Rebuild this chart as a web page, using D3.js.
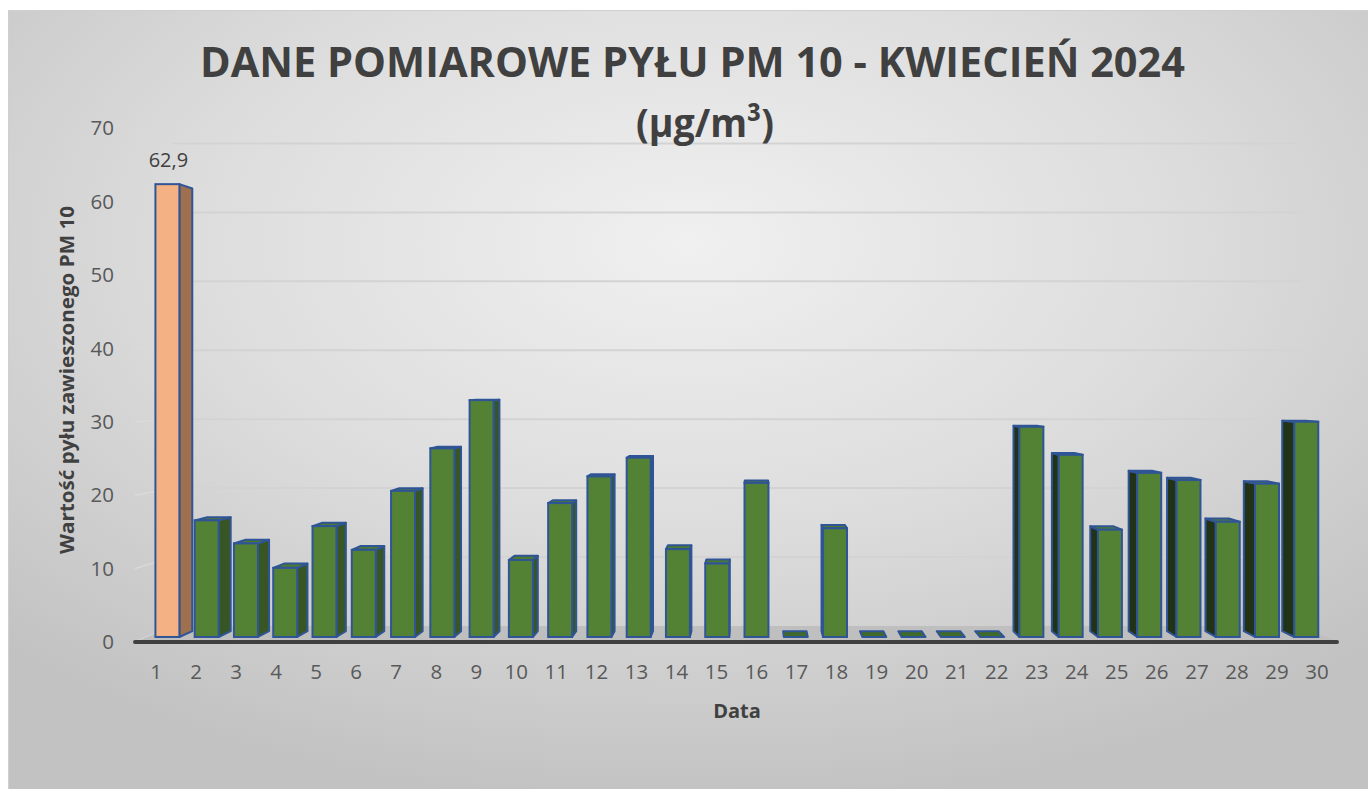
<!DOCTYPE html>
<html>
<head>
<meta charset="utf-8">
<script src="https://cdn.jsdelivr.net/npm/d3@7"></script>
<style>
  html, body { margin: 0; padding: 0; background: #ffffff; }
  svg { display: block; }
</style>
</head>
<body>
<svg id="chart" width="1368" height="789"></svg>
<script>
// ---- data ----
const days = [1,2,3,4,5,6,7,8,9,10,11,12,13,14,15,16,17,18,19,20,21,22,23,24,25,26,27,28,29,30];
const pm10 = [62.9,16.2,13.0,9.6,15.4,12.1,20.3,26.2,32.9,10.7,18.6,22.3,24.9,12.2,10.2,21.4,0,15.1,0,0,0,0,29.2,25.3,14.9,22.8,21.8,16.0,21.3,29.9];
const yTicks = [0,10,20,30,40,50,60,70];
const labelDay = 1;               // only data label shown
const titleLine1 = "DANE POMIAROWE PYŁU PM 10 - KWIECIEŃ 2024";
const titleLine2 = "(μg/m³)";
const yTitle = "Wartość pyłu zawieszonego PM 10";
const xTitle = "Data";

// ---- layout ----
const svg = d3.select("#chart");
const W = 1368, H = 789;
const font = "'Open Sans', 'DejaVu Sans', sans-serif";

const x = d3.scaleBand().domain(days).range([136, 1337]).padding(0);
const y = d3.scaleLinear().domain([0, 70]).range([642, 128.3]);
const step = x.step();
const barW = step * 0.61;

// perspective
const VP = [755, 378];
const zBarFront = 0.019, zBarBack = 0.041, zWall = 0.061;
function proj(X, Y, z) { return [VP[0] + (X - VP[0]) * (1 - z), VP[1] + (Y - VP[1]) * (1 - z)]; }
const line = pts => "M" + pts.map(p => p.join(",")).join("L") + "Z";

// ---- background ----
const defs = svg.append("defs");
const rg = defs.append("radialGradient").attr("id", "bg").attr("cx", "50%").attr("cy", "30%").attr("r", "72%");
rg.append("stop").attr("offset", "0%").attr("stop-color", "#f0f0f0");
rg.append("stop").attr("offset", "50%").attr("stop-color", "#dddddd");
rg.append("stop").attr("offset", "100%").attr("stop-color", "#c2c2c2");
svg.append("rect").attr("x", 8.5).attr("y", 10.5).attr("width", W - 8).attr("height", H - 10)
  .attr("fill", "url(#bg)").attr("stroke", "#cfcfcf").attr("stroke-width", 1);

// ---- gridlines (back wall + left wall) ----
const xL = 135, xR = 1337;
const grid = svg.append("g");
yTicks.forEach(v => {
  const a = proj(xL, y(v), 0), b = proj(xL, y(v), zWall), c = proj(xR, y(v), zWall);
  grid.append("line").attr("x1", a[0]).attr("y1", a[1]).attr("x2", b[0]).attr("y2", b[1])
    .attr("stroke", "#dadada").attr("stroke-width", 1.5);
  if (v > 0) grid.append("line").attr("x1", b[0]).attr("y1", b[1]).attr("x2", c[0]).attr("y2", c[1])
    .attr("stroke", "#d3d3d3").attr("stroke-width", 2);
});

// ---- floor ----
const f0 = proj(xL, y(0), 0), f1 = proj(xR, y(0), 0), f2 = proj(xR, y(0), zWall), f3 = proj(xL, y(0), zWall);
svg.append("path").attr("d", line([f0, f1, f2, f3])).attr("fill", "#bfbfbf");
svg.append("line").attr("x1", f0[0]).attr("y1", f0[1]).attr("x2", f1[0]).attr("y2", f1[1])
  .attr("stroke", "#404040").attr("stroke-width", 4).attr("stroke-linecap", "round");

// ---- bars ----
const bars = svg.append("g");
const outline = "#2f5597";
days.forEach((d, i) => {
  const v = pm10[i];
  const cx = x(d) + step / 2;
  const X0 = cx - barW / 2, X1 = cx + barW / 2;
  const Yb = y(0), Yt = y(v);
  const isFirst = d === 1;
  const cFront = isFirst ? "#f4b183" : "#548235";
  const cSideR = isFirst ? "#9e7050" : "#375623";
  const cSideL = isFirst ? "#7a5038" : "#213217";
  const cTop = isFirst ? "#f0a878" : "#4c7a2f";
  const g = bars.append("g");
  const sw = 2;
  if (X1 < VP[0] && v > 0) {
    g.append("path").attr("d", line([proj(X1, Yt, zBarFront), proj(X1, Yt, zBarBack), proj(X1, Yb, zBarBack), proj(X1, Yb, zBarFront)]))
      .attr("fill", cSideR).attr("stroke", outline).attr("stroke-width", sw).attr("stroke-linejoin", "round");
  }
  if (X0 > VP[0] && v > 0) {
    g.append("path").attr("d", line([proj(X0, Yt, zBarFront), proj(X0, Yt, zBarBack), proj(X0, Yb, zBarBack), proj(X0, Yb, zBarFront)]))
      .attr("fill", cSideL).attr("stroke", outline).attr("stroke-width", sw).attr("stroke-linejoin", "round");
  }
  if (Yt > VP[1]) {
    g.append("path").attr("d", line([proj(X0, Yt, zBarFront), proj(X1, Yt, zBarFront), proj(X1, Yt, zBarBack), proj(X0, Yt, zBarBack)]))
      .attr("fill", v > 0 ? cTop : "#3f6a28").attr("stroke", outline).attr("stroke-width", sw).attr("stroke-linejoin", "round");
  }
  if (v > 0) {
    const a = proj(X0, Yt, zBarFront), b = proj(X1, Yb, zBarFront);
    g.append("rect").attr("x", a[0]).attr("y", a[1]).attr("width", b[0] - a[0]).attr("height", b[1] - a[1])
      .attr("fill", cFront).attr("stroke", outline).attr("stroke-width", sw);
  }
});

// data label
{
  const i = days.indexOf(labelDay);
  const cx = x(labelDay) + step / 2;
  const p = proj(cx, y(pm10[i]), zBarFront);
  svg.append("text").attr("x", p[0] + 1).attr("y", p[1] - 17)
    .attr("text-anchor", "middle").attr("font-family", font).attr("font-size", 20)
    .attr("fill", "#404040").text(d3.format(".1f")(pm10[i]).replace(".", ","));
}

// ---- axes labels ----
const yAxisG = svg.append("g");
yTicks.forEach(v => {
  yAxisG.append("text").attr("x", 114).attr("y", y(v)).attr("dy", "0.35em")
    .attr("text-anchor", "end").attr("font-family", font).attr("font-size", 20.5)
    .attr("fill", "#595959").text(v);
});
const xAxisG = svg.append("g");
days.forEach(d => {
  xAxisG.append("text").attr("x", x(d) + step / 2).attr("y", 672).attr("dy", "0.35em")
    .attr("text-anchor", "middle").attr("font-family", font).attr("font-size", 20.5)
    .attr("fill", "#595959").text(d);
});

// ---- titles ----
svg.append("text").attr("x", 692.5).attr("y", 77).attr("text-anchor", "middle")
  .attr("font-family", font).attr("font-weight", 700).attr("font-size", 41)
  .attr("fill", "#404040").attr("textLength", 985).attr("lengthAdjust", "spacingAndGlyphs")
  .text(titleLine1);
svg.append("text").attr("x", 705).attr("y", 137).attr("text-anchor", "middle")
  .attr("font-family", font).attr("font-weight", 700).attr("font-size", 40)
  .attr("fill", "#404040").attr("textLength", 138).attr("lengthAdjust", "spacingAndGlyphs")
  .text(titleLine2);

svg.append("text").attr("transform", "translate(74,380) rotate(-90)")
  .attr("text-anchor", "middle").attr("font-family", font).attr("font-weight", 700).attr("font-size", 20)
  .attr("fill", "#404040").attr("textLength", 348).attr("lengthAdjust", "spacingAndGlyphs")
  .text(yTitle);

svg.append("text").attr("x", 737).attr("y", 711).attr("dy", "0.35em").attr("text-anchor", "middle")
  .attr("font-family", font).attr("font-weight", 700).attr("font-size", 20)
  .attr("fill", "#404040").text(xTitle);
</script>
</body>
</html>
